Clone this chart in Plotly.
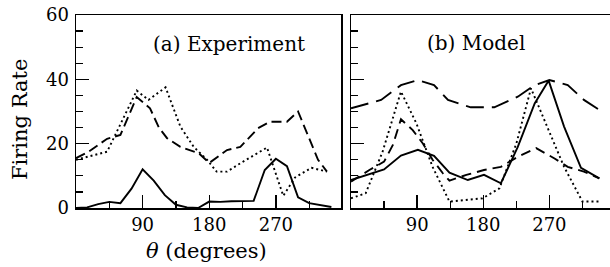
import plotly.graph_objects as go
from plotly.subplots import make_subplots

# ---- data (angle in degrees, firing rate) ----
a_solid_deg = [0, 15, 30, 45, 60, 75, 90, 105, 120, 135, 150, 165, 180, 195, 210, 225, 240, 255, 270, 285, 300, 315, 330, 345]
a_solid_val = [0, 0.2, 1.2, 1.9, 1.5, 6, 12, 8.5, 4, 1, 0.2, 0, 2, 1.9, 2.1, 2.2, 2.2, 11.8, 15.3, 13, 3.3, 1.5, 0.8, 0.3]

a_dash_deg = [0, 17, 42, 60, 82, 100, 112, 123, 141, 166, 180, 204, 222, 246, 262, 285, 300, 327, 339]
a_dash_val = [15.5, 17.5, 21.5, 22.7, 34.5, 31, 25, 21.7, 19, 17, 14, 18, 19, 24.8, 26.8, 26.8, 30, 15, 11.3]

a_dot_deg = [0, 42, 82, 98, 121, 141, 159, 177, 190, 204, 222, 258, 280, 296, 318, 339]
a_dot_val = [15, 17.5, 36.5, 33.6, 37.5, 25.3, 19, 15, 11.3, 11.3, 13.9, 18.8, 3.8, 9.5, 12.5, 11.3]

b_long_deg = [0, 41, 68, 91, 113, 132, 163, 195, 227, 250, 270, 295, 317, 338]
b_long_val = [31, 33.6, 38.2, 39.8, 38.2, 33.6, 31.3, 31.3, 34.6, 38.2, 39.8, 38.2, 33.6, 30.5]

b_dash_deg = [0, 25, 45, 57, 68, 84, 98, 111, 125, 134, 157, 181, 204, 227, 252, 277, 295, 317, 338]
b_dash_val = [8.2, 11.8, 14.4, 19.6, 27.6, 24.2, 20, 15, 10.8, 8.5, 10.3, 11.8, 12.8, 15.9, 18.6, 15.4, 12.8, 11.3, 9.2]

b_solid_deg = [0, 45, 68, 91, 113, 134, 159, 181, 204, 227, 250, 269, 290, 313, 338]
b_solid_val = [8.7, 12, 16.3, 18.1, 16.2, 11, 8.7, 10.3, 7.7, 19, 32.5, 39.6, 25.3, 12.5, 9.2]

b_dot_deg = [0, 20, 43, 68, 89, 111, 134, 179, 202, 225, 245, 265, 290, 315, 338]
b_dot_val = [3, 4.6, 17.5, 36.2, 26.3, 12.8, 2, 3, 6.1, 20, 37.2, 26.3, 12.8, 2, 2]

x_major = [90, 180, 270]
x_minor = [45, 135, 225, 315]
y_major = [0, 20, 40, 60]

FONT = "DejaVu Serif"
W, H = 610, 267
# plot area in pixels: left 76, top 15, bottom 208, right 610
ML, MT = 76, 15
MB = H - 208
MR = 0
PW = W - ML - MR
PH = H - MT - MB

fig = make_subplots(rows=1, cols=2)

def add(x, y, dash, col, width=1.9):
    fig.add_trace(go.Scatter(x=x, y=y, mode="lines",
                             line=dict(color="black", width=width, dash=dash),
                             showlegend=False, hoverinfo="skip"), row=1, col=col)

add(a_solid_deg, a_solid_val, "solid", 1)
add(a_dash_deg, a_dash_val, "10px,5px", 1)
add(a_dot_deg, a_dot_val, "2px,3px", 1)
add(b_long_deg, b_long_val, "18px,8px", 2)
add(b_dash_deg, b_dash_val, "10px,6px", 2)
add(b_solid_deg, b_solid_val, "solid", 2)
add(b_dot_deg, b_dot_val, "2px,3px", 2)

xa_common = dict(showline=True, linecolor="black", linewidth=1.5, mirror=True,
                 tickmode="array", tickvals=x_major, ticks="inside", ticklen=13,
                 tickwidth=1.3, tickcolor="black", showgrid=False, zeroline=False,
                 automargin=False, ticklabeloverflow="allow",
                 tickfont=dict(family=FONT, size=18, color="black"),
                 minor=dict(tickvals=x_minor, ticks="inside", ticklen=7, tickwidth=1.2,
                            tickcolor="black", showgrid=False))
ya_common = dict(range=[0, 60], showline=True, linecolor="black", linewidth=1.5,
                 tickmode="array", tickvals=y_major, ticks="inside", ticklen=13,
                 tickwidth=1.3, tickcolor="black", showgrid=False, zeroline=False,
                 automargin=False, ticklabeloverflow="allow",
                 tickfont=dict(family=FONT, size=18, color="black"),
                 minor=dict(dtick=5, ticks="inside", ticklen=7, tickwidth=1.2,
                            tickcolor="black", showgrid=False))

def sx(p):  # pixel x -> paper
    return (p - ML) / PW

def sy(p):  # pixel y -> paper
    return (MT + PH - p) / PH

dom_a = [0, sx(341)]
dom_b = [sx(351), 1.0]

fig.update_layout(
    width=W, height=H,
    margin=dict(l=ML, r=MR, t=MT, b=MB, autoexpand=False),
    paper_bgcolor="white", plot_bgcolor="white",
    xaxis=dict(domain=dom_a, range=[0, 358], **xa_common),
    xaxis2=dict(domain=dom_b, range=[0, 352.5], **xa_common),
    yaxis=dict(mirror=True, ticklabelstandoff=2, **ya_common),
    yaxis2=dict(mirror=False, showticklabels=False, **ya_common),
)

ann = [
    dict(text="(a) Experiment", x=sx(229), y=sy(44), size=20),
    dict(text="(b) Model", x=sx(476), y=sy(43), size=20),
    dict(text="<i>θ</i> (degrees)", x=sx(206), y=sy(251), size=21),
    dict(text="Firing Rate", x=sx(20), y=sy(120), textangle=-90, size=21),
]
for a in ann:
    size = a.pop("size")
    fig.add_annotation(xref="paper", yref="paper", showarrow=False,
                       xanchor="center", yanchor="middle",
                       font=dict(family=FONT, size=size, color="black"), **a)

fig.write_html(
    "out.html",
    config={"displayModeBar": False, "staticPlot": True},
    post_script="document.body.style.margin='0';document.body.style.overflow='hidden';",
)
